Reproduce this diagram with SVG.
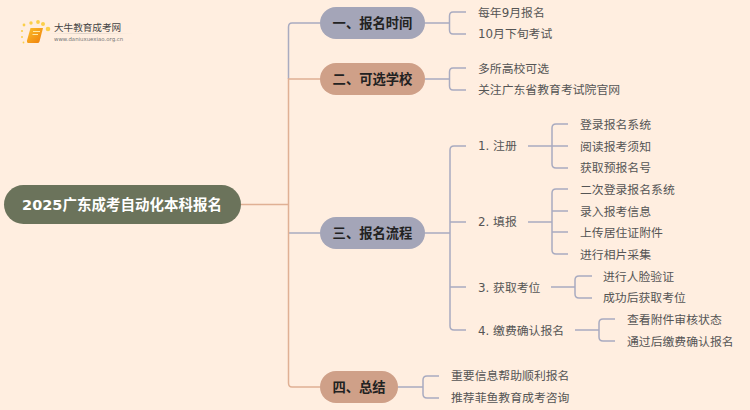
<svg xmlns="http://www.w3.org/2000/svg" width="750" height="410" viewBox="0 0 750 410">
<defs>
<linearGradient id="bk" x1="0" y1="0" x2="1" y2="1"><stop offset="0" stop-color="#fbc02d"/><stop offset="1" stop-color="#ef7d0a"/></linearGradient>
<linearGradient id="rule" x1="0" y1="0" x2="1" y2="0"><stop offset="0" stop-color="#e8dccf" stop-opacity="0"/><stop offset="0.4" stop-color="#d9cfc6"/><stop offset="1" stop-color="#e8dccf" stop-opacity="0"/></linearGradient>
</defs>
<style>
text{font-family:"DejaVu Sans","Noto Sans CJK SC",sans-serif;dominant-baseline:central}
.t{font-size:11.85px;fill:#555}
.m{font-size:13.3px;font-weight:700;fill:#222;text-anchor:middle}
.r{font-size:14.5px;font-weight:700;fill:#fff;text-anchor:middle}
.b{fill:none;stroke:#a9abc0;stroke-width:1.5}
.o{fill:none;stroke:#e0b094;stroke-width:1.5}
.d{fill:#fbcf4a}
</style>
<rect width="750" height="410" fill="#ffeee0"/>
<g id="connectors">
<path class="b" d="M320 23H292Q288.500 23 288.500 27V79"/>
<path class="b" d="M288.500 233H320"/>
<path class="o" d="M241 204.500H288.500"/>
<path class="o" d="M320 79H288.500V383Q288.500 387 292 387H320"/>
<path class="b" d="M425 23H449.500M466 12H453Q449.500 12 449.500 16V30Q449.500 34 453 34H466"/>
<path class="b" d="M425 79H449.500M466 68H453Q449.500 68 449.500 72V86Q449.500 90 453 90H466"/>
<path class="b" d="M425 233H449.500M466 146H454Q450 146 450 150V326Q450 330 454 330H466M450 222H466M450 287H466"/>
<path class="b" d="M528 146H568M568 124H556Q552 124 552 128V164Q552 168 556 168H568"/>
<path class="b" d="M528 222H552M568 189H556Q552 189 552 193V250Q552 254 556 254H568M552 211H568M552 232H568"/>
<path class="b" d="M551 287H575M592 276H579Q575 276 575 280V294Q575 298 579 298H592"/>
<path class="b" d="M575 330H599M615 319H603Q599 319 599 323V337Q599 341 603 341H615"/>
<path class="b" d="M398 387H423M439 376H427Q423 376 423 380V394Q423 398 427 398H439"/>
</g>
<g id="logo">
<circle class="d" cx="48" cy="29" r="2.300"/><circle class="d" cx="38" cy="22" r="1.900"/><circle class="d" cx="31" cy="23" r="1.700"/><circle class="d" cx="24" cy="25" r="1.400"/><circle class="d" cx="43" cy="24" r="2"/><circle class="d" cx="22" cy="31" r="1.100"/><circle class="d" cx="22" cy="37" r="1"/><circle class="d" cx="23.500" cy="42.500" r="0.900"/>
<path d="M30.500 28H43L39.500 41.500Q39 43 37.500 43H28Q26.500 42.500 27 40.500Z" fill="url(#bk)"/>
<path d="M33 31.500H40M32.500 34.500H38" stroke="#fde9a8" stroke-width="1" fill="none"/>
<rect x="48" y="33" width="85" height="1" fill="url(#rule)"/>
<text x="54" y="27.500" style="font-size:9.600px;fill:#444">大牛教育成考网</text>
<text x="54" y="39" style="font-size:5.400px;fill:#777">www.daniuxuexiao.org.cn</text>
</g>
<g id="root"><rect x="4" y="185" width="237" height="39" rx="19.500" fill="#6b735b"/><text class="r" x="122" y="205">2025广东成考自动化本科报名</text></g>
<g id="n1"><rect x="320" y="7" width="105" height="32" rx="16" fill="#a4a5b8"/><text class="m" x="372.500" y="23.500">一、报名时间</text></g>
<g id="n2"><rect x="320" y="63" width="105" height="32" rx="16" fill="#cfa088"/><text class="m" x="372.500" y="79.500">二、可选学校</text></g>
<g id="n3"><rect x="320" y="217" width="105" height="32" rx="16" fill="#a4a5b8"/><text class="m" x="372.500" y="233.500">三、报名流程</text></g>
<g id="n4"><rect x="320" y="371" width="78" height="32" rx="16" fill="#cfa088"/><text class="m" x="359" y="387.500">四、总结</text></g>
<g id="n1a"><text class="t" x="478" y="12.500">每年9月报名</text></g>
<g id="n1b"><text class="t" x="478" y="34">10月下旬考试</text></g>
<g id="n2a"><text class="t" x="478" y="68.500">多所高校可选</text></g>
<g id="n2b"><text class="t" x="478" y="90">关注广东省教育考试院官网</text></g>
<g id="s1"><text class="t" x="478" y="146">1. 注册</text></g>
<g id="s2"><text class="t" x="478" y="222">2. 填报</text></g>
<g id="s3"><text class="t" x="478" y="287.500">3. 获取考位</text></g>
<g id="s4"><text class="t" x="478" y="330.500">4. 缴费确认报名</text></g>
<g id="s1a"><text class="t" x="580" y="124.500">登录报名系统</text></g>
<g id="s1b"><text class="t" x="580" y="146.500">阅读报考须知</text></g>
<g id="s1c"><text class="t" x="580" y="168">获取预报名号</text></g>
<g id="s2a"><text class="t" x="580" y="189.500">二次登录报名系统</text></g>
<g id="s2b"><text class="t" x="580" y="211.500">录入报考信息</text></g>
<g id="s2c"><text class="t" x="580" y="233">上传居住证附件</text></g>
<g id="s2d"><text class="t" x="580" y="254.500">进行相片采集</text></g>
<g id="s3a"><text class="t" x="603" y="276.500">进行人脸验证</text></g>
<g id="s3b"><text class="t" x="603" y="298">成功后获取考位</text></g>
<g id="s4a"><text class="t" x="627" y="320">查看附件审核状态</text></g>
<g id="s4b"><text class="t" x="627" y="341.500">通过后缴费确认报名</text></g>
<g id="n4a"><text class="t" x="451" y="376">重要信息帮助顺利报名</text></g>
<g id="n4b"><text class="t" x="451" y="397.500">推荐菲鱼教育成考咨询</text></g>
</svg>
